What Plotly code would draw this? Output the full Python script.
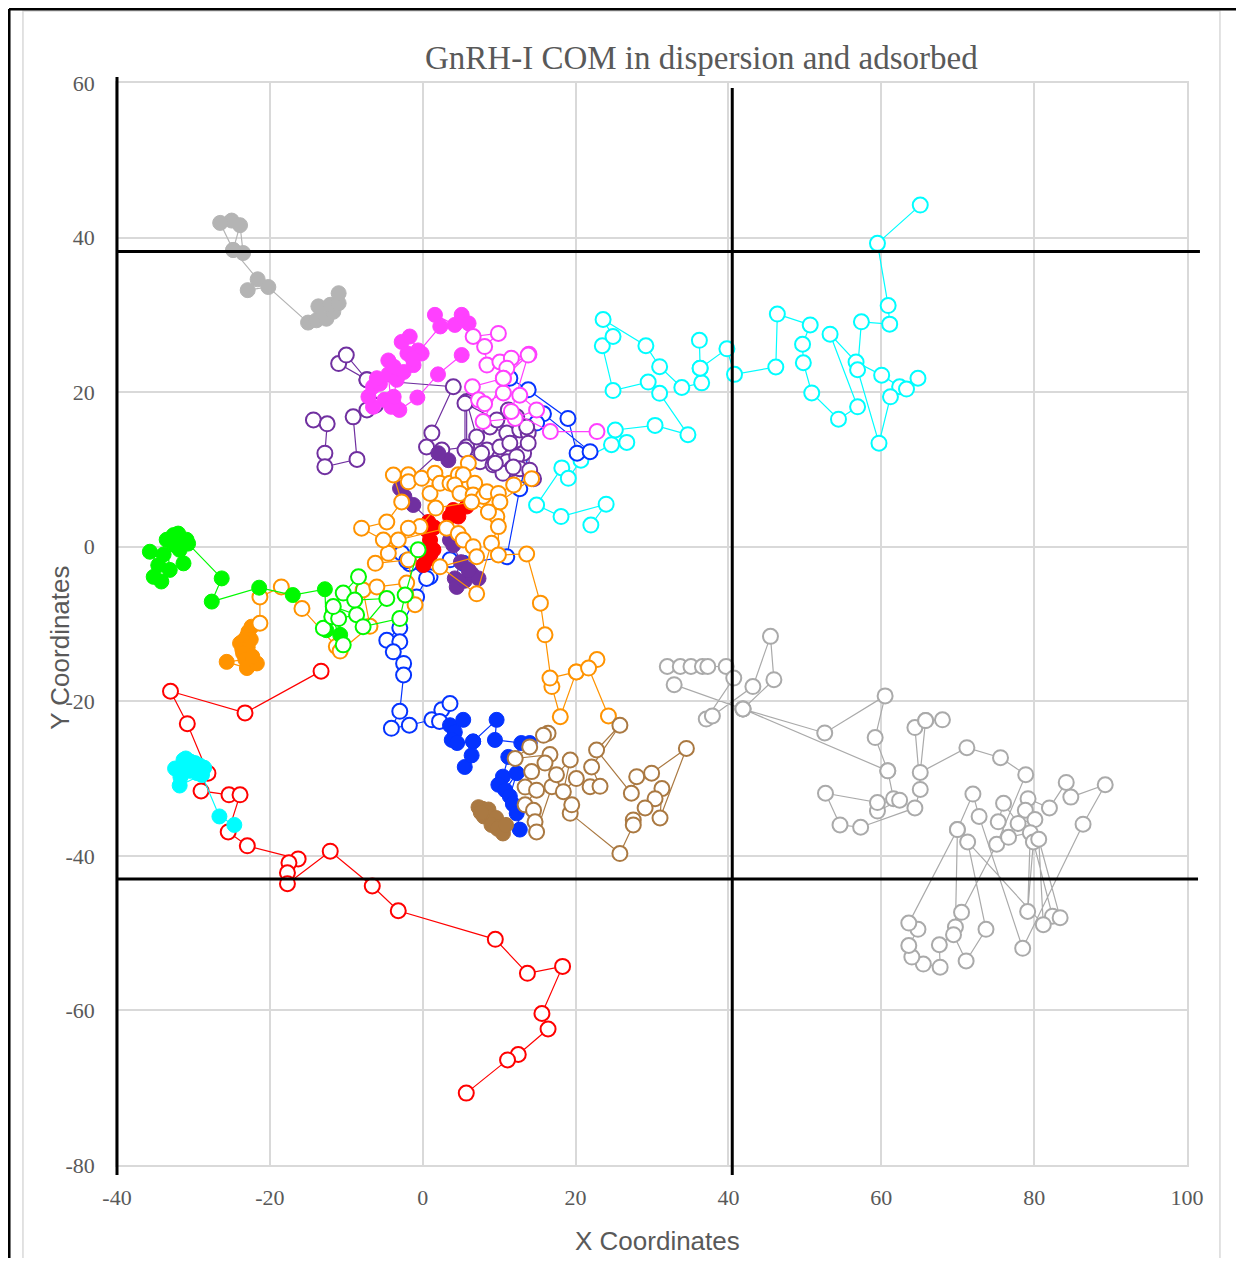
import plotly.graph_objects as go

# ---------------- axes / ticks ----------------
X_RANGE = [-40, 100]
Y_RANGE = [-80, 60]
X_TICKS = [-40, -20, 0, 20, 40, 60, 80, 100]
Y_TICKS = [-80, -60, -40, -20, 0, 20, 40, 60]
X_TICK_LABELS = ["-40", "-20", "0", "20", "40", "60", "80", "100"]
Y_TICK_LABELS = ["-80", "-60", "-40", "-20", "0", "20", "40", "60"]

# box (reference lines)
BOX_X = 40.5
BOX_Y_TOP = 38.2
BOX_Y_BOTTOM = -43.0

TITLE = "GnRH-I COM in dispersion and adsorbed"
X_TITLE = "X Coordinates"
Y_TITLE = "Y Coordinates"

# ---------------- data ----------------
lightgray_open_x = [32.0, 33.7, 35.1, 36.6, 37.3, 39.7, 40.7, 37.1, 37.9, 43.2, 45.5, 45.95, 41.9, 32.9, 41.9, 60.85,
                    41.9, 52.6, 60.5, 59.2, 60.85, 61.6, 62.4, 59.5, 59.5, 52.7, 54.6, 57.3, 64.4, 65.1, 64.4, 65.8,
                    68.0, 65.8, 65.1, 71.2, 75.6, 78.9, 75.1, 70.5, 69.7, 69.96, 71.99, 72.8, 78.5, 86.4, 89.3, 84.8,
                    84.2, 82.0, 79.2, 78.85, 80.1, 77.9, 76.0, 75.3, 76.65, 79.5, 79.15, 79.9, 82.4, 83.4, 80.6, 81.2,
                    71.3, 73.7, 71.1, 69.45, 67.6, 67.7, 65.5, 64.0, 63.6, 64.8, 63.6, 69.96]
lightgray_open_y = [-15.5, -15.5, -15.5, -15.5, -15.5, -15.5, -17.0, -22.3, -21.9, -18.1, -11.6, -17.2, -21.0, -17.85,
                    -21.0, -29.0, -21.0, -24.1, -19.3, -24.7, -29.0, -32.6, -32.8, -34.2, -33.1, -31.9, -36.0, -36.3,
                    -33.8, -31.4, -23.4, -22.5, -22.4, -22.5, -29.2, -26.0, -27.3, -29.5, -38.5, -47.3, -49.2, -36.6,
                    -32.0, -34.9, -51.96, -35.9, -30.8, -32.4, -30.5, -33.8, -32.6, -34.1, -35.3, -35.8, -33.2, -35.6,
                    -37.6, -37.0, -47.2, -38.2, -47.8, -48.0, -37.85, -48.9, -38.2, -49.5, -53.6, -50.2, -51.5, -54.4,
                    -54.0, -53.1, -51.6, -49.5, -48.7, -36.6]

cyan_open_x = [22.0, 24.0, 18.1, 14.9, 18.2, 19.05, 20.7, 24.7, 26.7, 25.2, 30.4, 34.7, 31.0, 29.5, 24.9, 23.5, 24.9,
               23.6, 29.2, 31.0, 33.9, 36.5, 36.3, 36.2, 36.3, 39.8, 40.8, 46.2, 46.4, 50.7, 49.7, 49.8, 50.9, 54.4,
               56.9, 53.3, 56.7, 60.05, 62.4, 64.8, 63.3, 61.2, 59.7, 56.9, 57.4, 61.1, 60.9, 59.5, 65.1]
cyan_open_y = [2.8, 5.5, 3.9, 5.4, 10.2, 8.85, 11.2, 13.2, 13.5, 15.1, 15.7, 14.5, 19.85, 21.3, 20.2, 26.0, 27.2,
               29.4, 26.0, 23.3, 20.6, 21.2, 23.1, 26.7, 23.1, 25.6, 22.3, 23.25, 30.1, 28.7, 26.2, 23.8, 19.9, 16.5,
               18.1, 27.5, 23.9, 22.2, 20.7, 21.8, 20.4, 19.4, 13.4, 22.9, 29.1, 28.8, 31.2, 39.25, 44.2]

red_open_x = [-13.3, -23.25, -33.0, -30.8, -28.1, -29.0, -25.35, -23.9, -25.45, -22.95, -16.3, -17.5, -17.7, -17.7,
              -12.1, -6.6, -3.2, 9.5, 13.7, 18.3, 15.6, 16.4, 12.5, 11.1, 5.7]
red_open_y = [-16.1, -21.5, -18.7, -22.9, -29.3, -31.6, -32.1, -32.1, -36.9, -38.7, -40.4, -40.9, -42.2, -43.6,
              -39.4, -43.9, -47.1, -50.8, -55.2, -54.3, -60.4, -62.4, -65.7, -66.4, -70.7]

blue_open_x = [11.4, 13.8, 19.0, 20.2, 21.9, 15.8, 14.9, 12.7, 11.0, 5.3, 3.57, 0.96, -1.7, -2.75, -2.1, 0.5, -0.8,
               -3.0, -4.7, -3.0, -3.85, -2.5, -2.5, -3.0, -4.1, -1.75, 1.2, 2.5, 3.57, 2.2]
blue_open_y = [21.8, 20.3, 16.6, 12.1, 12.3, 17.2, 16.0, 7.5, -1.3, -2.15, -1.7, -3.9, -2.2, -0.86, -1.8, -4.1, -6.5,
               -10.5, -12.1, -12.3, -13.6, -15.1, -16.6, -21.3, -23.5, -23.1, -22.4, -21.1, -20.3, -22.6]

purple_open_x = [-14.3, -12.5, -12.8, -12.8, -8.6, -9.1, -7.3, -6.2, -7.3, -11.0, -10.0, -7.3, 4.0, 1.2, 0.5, 2.5,
                 5.75, 5.75, 7.06, 8.8, 11.0, 12.7, 13.8, 8.4, 10.1, 11.4, 13.2, 13.8, 7.5, 9.2, 11.0, 12.3, 11.6,
                 12.7, 14.5, 10.5, 5.53, 5.53, 9.7, 12.3, 11.2, 13.6, 14.0, 11.85, 9.5, 7.7]
purple_open_y = [16.4, 15.9, 12.1, 10.35, 11.3, 16.8, 17.7, 18.3, 21.6, 23.7, 24.8, 21.6, 20.7, 14.7, 12.9, 12.5,
                 12.9, 18.8, 14.2, 15.5, 14.7, 15.1, 14.7, 12.5, 12.9, 13.4, 12.1, 13.4, 11.0, 10.6, 11.0, 11.65, 10.1,
                 10.1, 8.8, 9.5, 12.5, 18.55, 16.4, 16.8, 17.7, 15.5, 9.9, 10.3, 10.8, 12.1]

gray_filled_x = [-25.0, -26.5, -24.8, -23.9, -23.5, -24.8, -21.6, -22.9, -20.2, -15.0, -13.9, -12.6, -11.7, -13.65,
                 -12.1, -11.0, -11.0]
gray_filled_y = [42.2, 41.9, 38.4, 41.6, 38.0, 38.4, 34.6, 33.2, 33.6, 29.0, 29.3, 29.5, 30.4, 31.1, 31.3, 31.5, 32.8]

cyan_filled_x = [-31.3, -30.4, -31.0, -29.8, -29.2, -28.6, -32.4, -31.7, -30.5, -29.5, -28.9, -31.8, -30.0, -28.9,
                 -26.6, -24.65]
cyan_filled_y = [-27.6, -27.8, -27.4, -28.0, -28.3, -28.6, -28.7, -29.8, -29.0, -29.3, -29.5, -30.9, -28.2, -29.5,
                 -34.9, -36.0]

orange_filled_x = [-22.4, -22.8, -23.0, -22.5, -23.5, -23.9, -22.9, -23.6, -23.5, -23.2, -25.65, -23.0, -21.7, -22.3]
orange_filled_y = [-10.35, -11.0, -11.6, -12.0, -12.2, -12.5, -13.0, -13.3, -13.8, -14.6, -14.9, -15.7, -15.1, -14.2]

purple_filled_x = [3.35, 2.04, -2.97, -2.4, -1.23, 3.57, 4.0, 5.0, 4.2, 4.45, 5.5, 6.4, 7.3, 6.0]
purple_filled_y = [11.2, 12.1, 7.55, 6.5, 5.4, 0.87, 0.2, -2.0, -4.1, -5.2, -4.4, -3.5, -4.1, -3.0]

red_filled_x = [0.09, 0.52, 1.4, 1.0, 0.96, 0.52, 0.74, 1.5, 3.57, 4.0, 4.66, 5.75, 4.4]
red_filled_y = [-2.37, -1.7, -0.4, -1.0, 0.87, 2.16, 3.2, 2.5, 3.9, 4.75, 3.9, 5.2, 4.3]

blue_filled_x = [3.57, 5.3, 4.2, 3.8, 4.5, 6.6, 5.5, 6.4, 6.6, 9.67, 9.45, 12.9, 14.0, 11.2, 10.5, 9.9, 10.8, 12.3,
                 11.4, 11.8, 12.3, 12.7]
blue_filled_y = [-23.1, -22.4, -24.0, -25.0, -25.4, -25.2, -28.5, -27.0, -25.2, -22.4, -25.0, -25.4, -25.4, -27.2,
                 -29.75, -30.8, -31.5, -29.3, -32.3, -33.3, -34.5, -36.6]

brown_filled_x = [7.3, 7.8, 8.6, 8.4, 8.0, 8.8, 9.2, 9.6, 9.0, 10.1, 9.8, 10.5, 10.9, 7.6]
brown_filled_y = [-33.7, -33.9, -34.0, -34.5, -34.9, -35.0, -35.4, -35.1, -36.0, -36.2, -36.5, -37.1, -36.0, -34.4]

magenta_filled_x = [5.1, 2.0, -0.7, -3.06, -3.8, -5.0, -6.5, -7.1, -6.5, -5.6, -6.0, -4.5, -4.1, -3.8, -3.4, -4.5,
                    -3.8, -2.5, -1.2, -2.75, -1.7, -0.6, -0.14, -2.0, -1.3, 2.3, 1.6, 4.2, 5.1, 6.0]
magenta_filled_y = [24.8, 22.3, 19.3, 17.7, 18.5, 19.0, 18.1, 19.4, 20.7, 21.1, 21.8, 22.3, 18.1, 19.4, 21.6, 24.1,
                    23.3, 22.6, 23.5, 26.5, 27.2, 25.4, 25.0, 25.0, 24.3, 28.5, 30.0, 28.7, 30.0, 28.9]

magenta_open_x = [6.6, 9.9, 8.1, 8.4, 10.1, 11.6, 13.9, 11.0, 10.55, 6.5, 7.3, 8.1, 10.55, 12.7, 14.9, 12.1, 7.9,
                  10.55, 13.8, 11.6, 16.7, 22.8]
magenta_open_y = [27.2, 27.6, 25.9, 23.5, 23.9, 24.4, 24.9, 23.1, 21.8, 20.7, 19.0, 18.5, 19.9, 19.6, 17.7, 16.6,
                  16.2, 21.8, 24.8, 17.5, 14.9, 14.9]

orange_open_x = [-21.3, -21.3, -18.5, -15.8, -11.3, -10.8, -6.9, -7.8, -6.0, -2.1, -1.0, -1.88, -6.2, -4.5, -5.15,
                 -8.0, -4.7, -2.75, -3.84, -1.88, -1.88, -0.14, 1.6, 0.96, 2.26, 3.57, 4.66, 5.97, 5.3, 4.2, 4.88,
                 6.8, 6.6, 7.93, 8.4, 9.9, 11.9, 14.25, 10.1, 9.7, 8.6, 6.4, 1.7, -0.35, -1.88, -3.2, 3.13, 4.66,
                 5.3, 6.6, 7.06, 2.26, 7.06, 9.0, 9.9, 9.9, 13.6, 15.4, 16.0, 16.9, 18.0, 20.1, 16.65, 20.1, 22.8,
                 21.7, 24.3]
orange_open_y = [-9.9, -6.5, -5.2, -8.0, -12.9, -13.5, -10.3, -5.6, -5.2, -4.7, -7.5, -1.7, -2.15, -0.86, 0.87, 2.4,
                 3.2, 5.8, 9.28, 9.3, 8.4, 8.85, 9.5, 6.9, 8.2, 8.2, 9.3, 10.8, 9.3, 8.0, 6.9, 8.2, 6.7, 6.5, 7.1,
                 6.9, 8.0, 8.8, 5.8, 3.9, 4.5, 5.8, 5.0, 2.6, 2.4, 0.87, 2.4, 1.7, 0.87, 0.0, -1.3, -2.6, -6.1, 0.44,
                 2.6, -1.07, -0.94, -7.3, -11.4, -18.1, -22.0, -16.2, -17.0, -16.2, -14.6, -15.7, -21.9]

green_filled_x = [-35.7, -34.6, -35.2, -34.2, -33.1, -33.5, -32.6, -32.0, -31.8, -31.3, -30.9, -32.4, -33.9, -30.7,
                  -26.3, -27.6, -21.4, -17.0, -12.8, -12.6, -10.8]
green_filled_y = [-0.65, -2.4, -3.9, -4.5, -3.0, 0.9, 1.5, 1.7, -0.4, -2.15, 0.9, 0.2, -1.0, 0.4, -4.1, -7.1, -5.3,
                  -6.25, -5.5, -10.8, -11.4]

green_open_x = [-13.0, -11.9, -10.4, -11.0, -8.65, -11.7, -10.4, -8.4, -8.9, -4.7, -7.8, -3.0, -2.3, -0.6]
green_open_y = [-10.55, -9.05, -12.7, -9.3, -8.8, -7.75, -6.0, -3.9, -6.9, -6.7, -10.35, -9.3, -6.25, -0.4]

brown_open_x = [16.4, 15.8, 14.0, 12.1, 16.65, 16.0, 14.25, 13.4, 14.9, 13.4, 14.5, 14.7, 14.9, 16.9, 17.5, 19.3,
                18.4, 20.1, 21.9, 23.2, 22.1, 25.8, 22.75, 27.3, 28.0, 29.95, 34.5, 31.05, 31.3, 30.4, 29.1, 27.55,
                27.55, 25.8, 19.3, 19.5]
brown_open_y = [-24.15, -24.4, -25.9, -27.4, -26.9, -28.0, -29.1, -31.1, -31.5, -33.4, -34.1, -35.6, -36.9, -31.05,
                -29.5, -27.6, -31.7, -30.0, -31.05, -31.0, -28.5, -23.1, -26.3, -31.9, -29.75, -29.3, -26.1, -35.1,
                -31.3, -32.6, -33.8, -35.35, -36.0, -39.7, -34.5, -33.4]

# ---------------- styles ----------------
GRAY = "#B4B4B4"
LIGHTGRAY = "#AAAAAA"
CYAN = "#00FDFF"
RED = "#FF0000"
BLUE = "#0433FF"
PURPLE = "#7030A0"
ORANGE = "#FF9300"
GREEN = "#00F900"
BROWN = "#AA7942"
MAGENTA = "#FF40FF"

series = [
    (lightgray_open_x, lightgray_open_y, LIGHTGRAY, False),
    (cyan_open_x, cyan_open_y, CYAN, False),
    (red_open_x, red_open_y, RED, False),
    (blue_open_x, blue_open_y, BLUE, False),
    (purple_open_x, purple_open_y, PURPLE, False),
    (gray_filled_x, gray_filled_y, GRAY, True),
    (cyan_filled_x, cyan_filled_y, CYAN, True),
    (orange_filled_x, orange_filled_y, ORANGE, True),
    (purple_filled_x, purple_filled_y, PURPLE, True),
    (red_filled_x, red_filled_y, RED, True),
    (blue_filled_x, blue_filled_y, BLUE, True),
    (brown_filled_x, brown_filled_y, BROWN, True),
    (magenta_filled_x, magenta_filled_y, MAGENTA, True),
    (magenta_open_x, magenta_open_y, MAGENTA, False),
    (orange_open_x, orange_open_y, ORANGE, False),
    (green_filled_x, green_filled_y, GREEN, True),
    (green_open_x, green_open_y, GREEN, False),
    (brown_open_x, brown_open_y, BROWN, False),
]

fig = go.Figure()
for xs, ys, color, filled in series:
    if filled:
        marker = dict(symbol="circle", size=15, color=color, line=dict(color=color, width=1))
    else:
        marker = dict(symbol="circle", size=15, color="white", line=dict(color=color, width=2))
    fig.add_trace(go.Scatter(x=xs, y=ys, mode="lines+markers",
                             line=dict(color=color, width=1.2),
                             marker=marker, showlegend=False, hoverinfo="skip"))


def xp(v):
    return (v - X_RANGE[0]) / (X_RANGE[1] - X_RANGE[0])


def yp(v):
    return (v - Y_RANGE[0]) / (Y_RANGE[1] - Y_RANGE[0])


GRID = "#D9D9D9"
TXT = "#595959"
SERIF = "Liberation Serif, Times New Roman, serif"
SANS = "Liberation Sans, Arial, sans-serif"

shapes = [
    # outer chart border (light gray) and frame (black)
    dict(type="rect", xref="paper", yref="paper", x0=-0.0879, x1=1.0308, y0=-0.2, y1=1.0665,
         line=dict(color=GRID, width=1.5), layer="below"),
    dict(type="line", xref="paper", yref="paper", x0=-0.1009, x1=-0.1009, y0=-0.2, y1=1.0684,
         line=dict(color="black", width=3)),
    dict(type="line", xref="paper", yref="paper", x0=-0.1009, x1=1.2, y0=1.0684, y1=1.0684,
         line=dict(color="black", width=3)),
    # left axis line
    dict(type="line", xref="paper", yref="paper", x0=0, x1=0, y0=-0.0092, y1=1.0055,
         line=dict(color="black", width=3), layer="above"),
    # box lines
    dict(type="line", xref="paper", yref="paper", x0=xp(BOX_X), x1=xp(BOX_X), y0=-0.0092, y1=0.9954,
         line=dict(color="black", width=3), layer="above"),
    dict(type="line", xref="paper", yref="paper", x0=0, x1=1.0121, y0=yp(BOX_Y_TOP), y1=yp(BOX_Y_TOP),
         line=dict(color="black", width=3), layer="above"),
    dict(type="line", xref="paper", yref="paper", x0=0, x1=1.0103, y0=yp(BOX_Y_BOTTOM), y1=yp(BOX_Y_BOTTOM),
         line=dict(color="black", width=3), layer="above"),
]

annotations = [
    dict(text=TITLE, xref="paper", yref="paper", x=0.546, y=1.023, xanchor="center", yanchor="middle",
         showarrow=False, font=dict(family=SERIF, size=33, color=TXT)),
    dict(text=X_TITLE, xref="paper", yref="paper", x=0.5056, y=-0.0855, xanchor="center", yanchor="bottom",
         showarrow=False, font=dict(family=SANS, size=26, color=TXT)),
    dict(text=Y_TITLE, xref="paper", yref="paper", x=-0.0533, y=0.478, xanchor="center", yanchor="middle",
         showarrow=False, textangle=-90, font=dict(family=SANS, size=26, color=TXT)),
]

axis_common = dict(showgrid=True, gridcolor=GRID, gridwidth=1.5, zeroline=False,
                   showline=True, linecolor=GRID, linewidth=1.5, mirror=True,
                   ticks="outside", tickcolor="rgba(0,0,0,0)",
                   tickfont=dict(family=SERIF, size=22, color=TXT))

fig.update_layout(
    width=1228, height=1250,
    margin=dict(l=109, r=49, t=75, b=93, pad=0),
    plot_bgcolor="white", paper_bgcolor="white",
    xaxis=dict(range=X_RANGE, tickvals=X_TICKS, ticktext=X_TICK_LABELS, ticklen=12, **axis_common),
    yaxis=dict(range=Y_RANGE, tickvals=Y_TICKS, ticktext=Y_TICK_LABELS, ticklen=16, **axis_common),
    shapes=shapes, annotations=annotations,
)

fig.write_html("out.html")
